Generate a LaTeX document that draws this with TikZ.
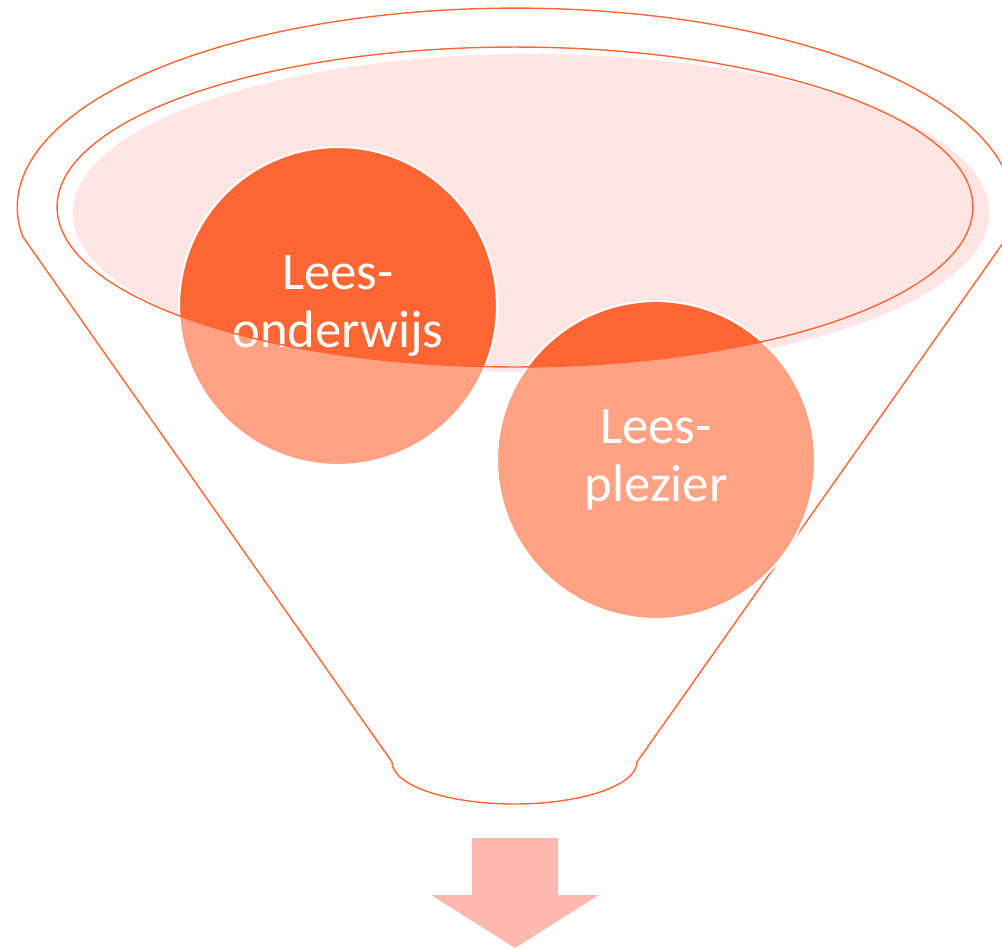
\documentclass[tikz,border=0pt]{standalone}
\usepackage{fontspec}
\setmainfont{Carlito}

\definecolor{rimline}{HTML}{FF6633}
\definecolor{bubbledark}{HTML}{FF6633}
\definecolor{bubblelight}{HTML}{FFA283}
\definecolor{mouthfill}{HTML}{FFE6E4}
\definecolor{arrowfill}{HTML}{FFB9AE}

\begin{document}
\begin{tikzpicture}[
        x = 0.02cm, y = 0.02cm, % one unit = one pixel of the slide
        rim/.style = {draw = rimline, line width = 0.8pt},
        bubble/.style = {
            circle,
            minimum size = 6.36cm,
            inner sep = 0pt,
            fill = bubblelight,
            draw = white,
            line width = 1.2pt,
            text = white,
            align = center,
            font = \fontsize{30}{33}\selectfont,
            execute at begin node = \rule{0pt}{23.3pt}, % text sits a bit low
            % the part inside the mouth of the funnel is darker
            path picture = {\fill[bubbledark] (mouth) ellipse [x radius = 9.16cm, y radius = 3.2cm];}
        }
    ]

    \useasboundingbox (0,0) rectangle (1002,-948);

    \coordinate (mouth) at (515,-207);
    \coordinate (spout) at (514.5,-762);

    % funnel body
    \draw[rim] (1007.4,-236.8)
        arc [start angle = -8.6, end angle = 188.6, x radius = 9.96cm, y radius = 3.98cm]
        -- (392,-762)
        arc [start angle = 180, end angle = 360, x radius = 2.45cm, y radius = 0.84cm]
        -- cycle;

    % mouth
    \fill[mouthfill] (531,-213) ellipse [x radius = 9.17cm, y radius = 3.18cm];

    \node[bubble] (onderwijs) at (338,-306) {Lees-\\onderwijs};
    \node[bubble] (plezier) at (656,-460) {Lees-\\plezier};

    \draw[rim] (mouth) ellipse [x radius = 9.16cm, y radius = 3.2cm];

    % output arrow
    \fill[arrowfill] (472,-838) -- (558,-838) -- (558,-895) -- (599,-895)
        -- (515,-948) -- (431,-895) -- (472,-895) -- cycle;

\end{tikzpicture}
\end{document}
